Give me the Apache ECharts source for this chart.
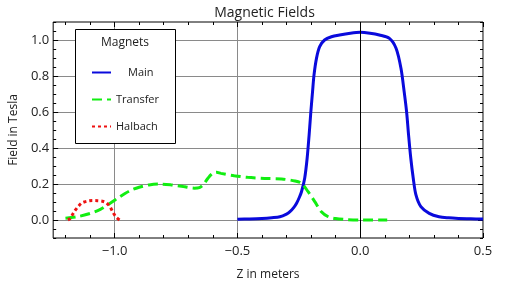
<!DOCTYPE html>
<html>
<head>
<meta charset="utf-8">
<script src="https://cdn.jsdelivr.net/npm/echarts@6/dist/echarts.min.js"></script>
<style>
  html, body { margin: 0; padding: 0; background: #fff; }
  #chart { width: 529px; height: 290px; }
</style>
</head>
<body>
<div id="chart"></div>
<script>
// 曲线数据 [z, B]
const mainField = [
  [-0.5, 0.004], [-0.45, 0.006], [-0.4, 0.009], [-0.36, 0.013], [-0.327, 0.018],
  [-0.3, 0.033], [-0.286, 0.046], [-0.27, 0.07], [-0.259, 0.093], [-0.248, 0.125],
  [-0.239, 0.157], [-0.226, 0.232], [-0.216, 0.343], [-0.208, 0.472], [-0.201, 0.60],
  [-0.194, 0.713], [-0.188, 0.806], [-0.178, 0.898], [-0.165, 0.963], [-0.145, 1.0],
  [-0.117, 1.018], [-0.084, 1.028], [-0.04, 1.038], [0, 1.043], [0.04, 1.038],
  [0.078, 1.028], [0.119, 1.009], [0.146, 0.954], [0.166, 0.843], [0.179, 0.713],
  [0.189, 0.60], [0.197, 0.472], [0.206, 0.343], [0.216, 0.232], [0.227, 0.139],
  [0.247, 0.074], [0.281, 0.037], [0.321, 0.018], [0.36, 0.012], [0.4, 0.009],
  [0.45, 0.007], [0.5, 0.005]
];
const transferField = [
  [-1.2, 0.01], [-1.153, 0.018], [-1.1, 0.036], [-1.058, 0.059], [-1.018, 0.093],
  [-0.978, 0.13], [-0.937, 0.163], [-0.9, 0.182], [-0.86, 0.195], [-0.82, 0.2],
  [-0.77, 0.195], [-0.72, 0.186], [-0.675, 0.177], [-0.655, 0.18], [-0.64, 0.195],
  [-0.62, 0.232], [-0.6, 0.26], [-0.585, 0.265], [-0.567, 0.259], [-0.513, 0.246],
  [-0.459, 0.237], [-0.39, 0.231], [-0.32, 0.228], [-0.266, 0.217], [-0.239, 0.204],
  [-0.212, 0.157], [-0.185, 0.102], [-0.158, 0.046], [-0.13, 0.018], [-0.1, 0.008],
  [-0.05, 0.002], [0.0, 0.0], [0.05, 0.0], [0.11, 0.0]
];
const halbachField = [
  [-1.19, 0.0], [-1.18, 0.01], [-1.165, 0.045], [-1.15, 0.072], [-1.133, 0.095],
  [-1.11, 0.105], [-1.09, 0.108], [-1.07, 0.107], [-1.05, 0.104], [-1.035, 0.097],
  [-1.019, 0.074], [-1.008, 0.046], [-0.995, 0.018], [-0.98, 0.0]
];

// 刻度
const xMajor = [-1.0, -0.5, 0.0, 0.5];
const xMinor = [-1.2, -1.1, -1.0, -0.9, -0.8, -0.7, -0.6, -0.5, -0.4, -0.3, -0.2, -0.1, 0, 0.1, 0.2, 0.3, 0.4, 0.5];
const yMajor = [0.0, 0.2, 0.4, 0.6, 0.8, 1.0];
const yMinor = [-0.1, -0.05, 0, 0.05, 0.1, 0.15, 0.2, 0.25, 0.3, 0.35, 0.4, 0.45, 0.5, 0.55, 0.6, 0.65, 0.7, 0.75, 0.8, 0.85, 0.9, 0.95, 1.0, 1.05, 1.1];

const FONT = 'Open Sans';
const fmt = v => (v < 0 ? '\u2212' + Math.abs(v).toFixed(1) : v.toFixed(1));

function xAx(pos, ticks, len, withLabel) {
  return {
    type: 'value', position: pos, min: -1.25, max: 0.5,
    axisLine: { show: false, onZero: false },
    axisTick: { show: true, inside: true, length: len, customValues: ticks, lineStyle: { color: '#000' } },
    axisLabel: withLabel
      ? { show: true, customValues: xMajor, formatter: fmt, margin: 7, color: '#222', fontSize: 13, fontFamily: FONT }
      : { show: false },
    splitLine: withLabel ? { show: true, lineStyle: { color: '#8a8a8a', width: 1 } } : { show: false },
    name: withLabel ? 'Z in meters' : '',
    nameLocation: 'middle', nameGap: 31,
    nameTextStyle: { color: '#222', fontSize: 12, fontFamily: FONT }
  };
}
function yAx(pos, ticks, len, withLabel) {
  return {
    type: 'value', position: pos, min: -0.1, max: 1.1,
    axisLine: { show: false, onZero: false },
    axisTick: { show: true, inside: true, length: len, customValues: ticks, lineStyle: { color: '#000' } },
    axisLabel: withLabel
      ? { show: true, customValues: yMajor, formatter: fmt, margin: 4, color: '#222', fontSize: 13, fontFamily: FONT }
      : { show: false },
    splitLine: withLabel ? { show: true, lineStyle: { color: '#8a8a8a', width: 1 } } : { show: false },
    name: withLabel ? 'Field in Tesla' : '',
    nameLocation: 'middle', nameGap: 32,
    nameTextStyle: { color: '#222', fontSize: 12, fontFamily: FONT }
  };
}

var chart = echarts.init(document.getElementById('chart'));

var option = {
  animation: false,
  title: {
    text: 'Magnetic Fields', left: 'center', top: 1,
    textStyle: { color: '#222', fontSize: 14, fontWeight: 'normal', fontFamily: FONT }
  },
  grid: { left: 52, right: 46, top: 22, bottom: 52, show: true, borderColor: '#000', borderWidth: 1, backgroundColor: 'transparent' },
  xAxis: [
    xAx('bottom', xMajor, 5, true),
    xAx('bottom', xMinor, 3, false),
    xAx('top', xMajor, 5, false),
    xAx('top', xMinor, 3, false)
  ],
  yAxis: [
    yAx('left', yMajor, 5, true),
    yAx('left', yMinor, 3, false),
    yAx('right', yMajor, 5, false),
    yAx('right', yMinor, 3, false)
  ],
  legend: {
    orient: 'vertical', left: 86, top: 62, itemWidth: 19, itemHeight: 12, itemGap: 16, z: 6,
    itemStyle: { opacity: 0 },
    textStyle: { color: '#222', fontSize: 11, fontFamily: FONT },
    data: [
      { name: 'Main', textStyle: { padding: [0, 0, 0, 12] } },
      { name: 'Transfer' },
      { name: 'Halbach' }
    ]
  },
  graphic: [
    { type: 'rect', z: 5, shape: { x: 75.5, y: 29.5, width: 100, height: 114 }, style: { fill: '#fff', stroke: '#000', lineWidth: 1 } },
    { type: 'text', z: 6, x: 125, y: 37, style: { text: 'Magnets', fill: '#222', fontSize: 12, fontFamily: FONT, textAlign: 'center' } }
  ],
  series: [
    {
      name: 'Main', type: 'line', data: mainField, symbol: 'none', smooth: 0.3,
      lineStyle: { color: '#0a0adc', width: 3 }, itemStyle: { color: '#0a0adc' },
      markLine: {
        silent: true, symbol: ['none', 'none'], label: { show: false },
        lineStyle: { color: '#000', type: 'solid', width: 1 },
        data: [{ xAxis: 0 }]
      }
    },
    {
      name: 'Transfer', type: 'line', data: transferField, symbol: 'none', smooth: 0.3,
      lineStyle: { color: '#11ee11', width: 3, type: [10, 5] }, itemStyle: { color: '#11ee11' }
    },
    {
      name: 'Halbach', type: 'line', data: halbachField, symbol: 'none', smooth: 0.3,
      lineStyle: { color: '#ee1111', width: 3, type: [3, 3] }, itemStyle: { color: '#ee1111' }
    }
  ]
};

chart.setOption(option);
</script>
</body>
</html>
